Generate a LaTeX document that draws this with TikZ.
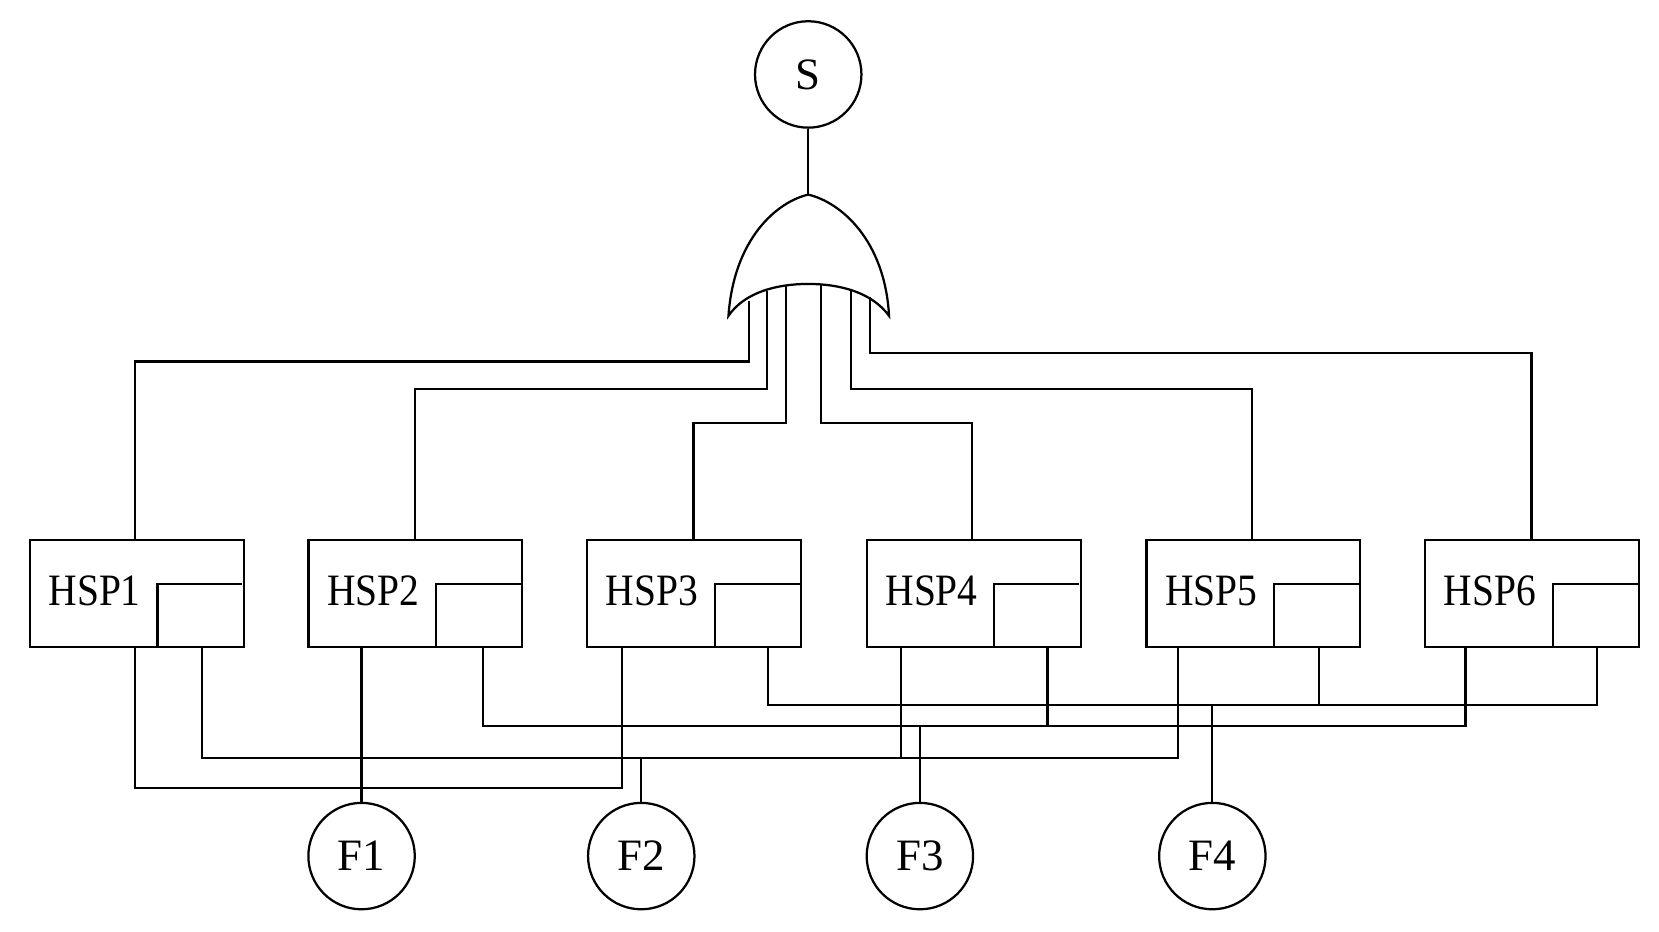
\documentclass[tikz,border=0pt]{standalone}
\usepackage{fontspec}
\setmainfont{Liberation Serif}
\begin{document}
\begin{tikzpicture}[x=0.01cm,y=-0.01cm,line width=0.6pt,
  circ/.style={draw,circle,minimum size=1cm,inner sep=0pt,font=\fontsize{12}{12}\selectfont},
  box/.style={draw,minimum width=2.01cm,minimum height=1cm,inner sep=0pt},
  lab/.style={font=\fontsize{12}{12}\selectfont,xscale=0.88}]
\useasboundingbox (0,0) rectangle (1560,876);
\node[circ] (S) at (760,70) {S};
\coordinate (gt) at (760,183);
\draw (685,297) .. controls (690,225) and (730,190) .. (gt) .. controls (790,190) and (832,225) .. (836,297)
  .. controls (820,275) and (790,267) .. (760,267) .. controls (730,267) and (700,275) .. (685,297) -- cycle;
\draw (S) -- (gt);
\foreach \i/\l in {1/27,2/289,3/551,4/814,5/1077,6/1339}{
  \node[box,anchor=north west] (H\i) at (\l,507) {};
  \draw (\l+121,607) -- (\l+121,549) -- (\l+201,549);
  \node[lab] at (\l+62,556) {HSP\i};
}
\foreach \x/\y [count=\k] in {704/283,721/274,739/269,772/268,800/272,818/279}{
  \coordinate (g\k) at (\x,\y);}
\draw (g1) |- (127,340) -- (H1.north -| 127,0);
\draw (g2) |- (390,366) -- (H2.north -| 390,0);
\draw (g3) |- (652,398) -- (H3.north -| 652,0);
\draw (g4) |- (914,398) -- (H4.north -| 914,0);
\draw (g5) |- (1177,366) -- (H5.north -| 1177,0);
\draw (g6) |- (1440,332) -- (H6.north -| 1440,0);
\node[circ] (F1) at (340,805) {F1};
\node[circ] (F2) at (603,805) {F2};
\node[circ] (F3) at (865,805) {F3};
\node[circ] (F4) at (1140,805) {F4};
% F1
\draw (H1.south -| 127,0) |- (585,741) -- (H3.south -| 585,0);
\draw (H2.south -| 340,0) -- (F1);
% F2
\draw (H1.south -| 190,0) |- (1108,713) -- (H5.south -| 1108,0);
\draw (H4.south -| 847,0) -- (847,713);
\draw (F2) -- (603,713);
% F3
\draw (H2.south -| 454,0) |- (1378,683) -- (H6.south -| 1378,0);
\draw (H4.south -| 985,0) -- (985,683);
\draw (F3) -- (865,683);
% F4
\draw (H3.south -| 722,0) |- (1502,663) -- (H6.south -| 1502,0);
\draw (H5.south -| 1240,0) -- (1240,663);
\draw (F4) -- (1140,663);
\end{tikzpicture}
\end{document}
